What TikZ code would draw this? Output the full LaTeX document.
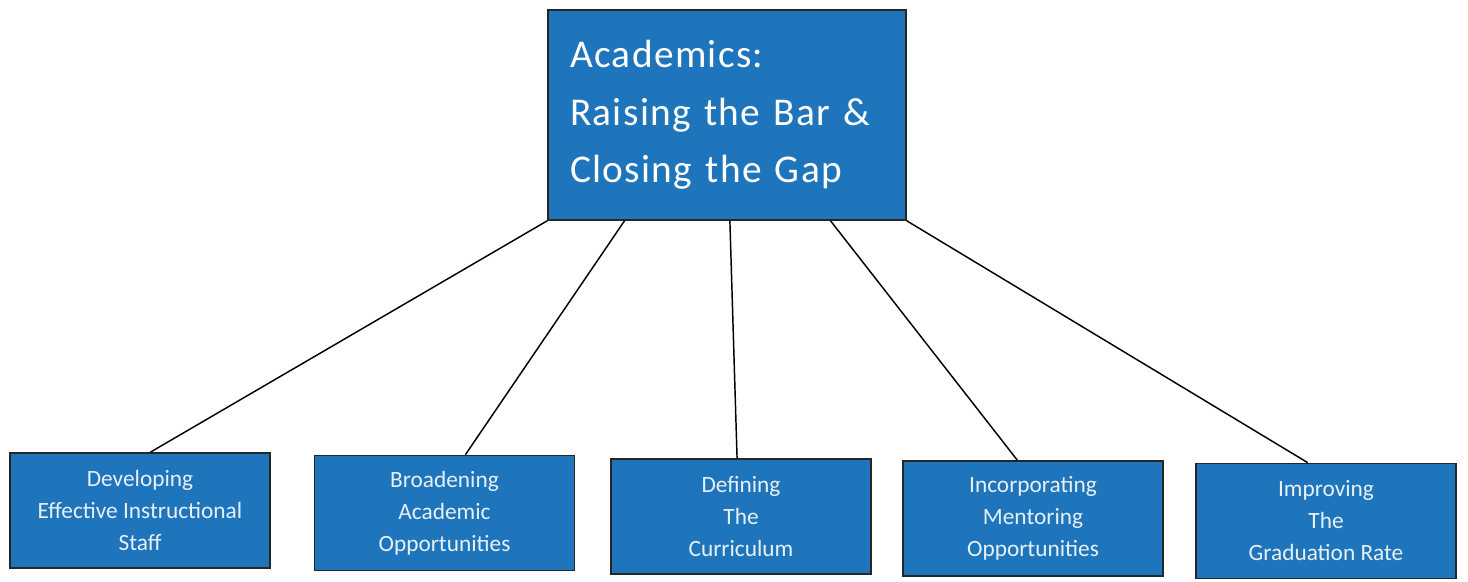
\documentclass[tikz,border=0pt]{standalone}
\usepackage{fontspec}
\setmainfont{Carlito}
\newfontfamily\headfont[LetterSpace=3.5,WordSpace=0.6]{Carlito}
\usetikzlibrary{calc}
\definecolor{boxblue}{RGB}{30,117,188}
\definecolor{boxtext}{RGB}{232,240,247}
\begin{document}
\begin{tikzpicture}[x=0.75pt,y=-0.75pt,
  topbox/.style={draw=black!85,line width=1.3pt,fill=boxblue,text=white,
    minimum width=268.5pt,minimum height=157.5pt,inner xsep=16.5pt,
    text width=235.5pt,align=left,
    font=\headfont\fontsize{29.5}{43}\selectfont},
  subbox/.style={draw=black!85,line width=1.3pt,fill=boxblue,text=boxtext,
    minimum width=195pt,minimum height=86.25pt,inner sep=0pt,align=center,
    font=\fontsize{17.5}{24}\selectfont},
  link/.style={draw=black,line width=1.1pt}]
\useasboundingbox (0,0) rectangle (1468,582);

% main goal
\node[topbox] (top) at (727,115) {Academics:\\Raising the Bar \&\\Closing the Gap};

% five focus areas
\node[subbox] (b1) at (140,510.5) {Developing\\Effective Instructional\\Staff};
\node[subbox] (b2) at (444.5,513) {Broadening\\Academic\\Opportunities};
\node[subbox] (b3) at (741,516.5) {Defining\\The\\Curriculum};
\node[subbox] (b4) at (1033,518.5) {Incorporating\\Mentoring\\Opportunities};
\node[subbox] (b5) at (1326,521) {Improving\\The\\Graduation Rate};

% connectors from the bottom edge of the main box
\draw[link] (top.south west) -- ($(b1.north west)!0.54!(b1.north east)$);
\draw[link] ($(top.south west)!0.215!(top.south east)$) -- ($(b2.north west)!0.58!(b2.north east)$);
\draw[link] ($(top.south west)!0.508!(top.south east)$) -- ($(b3.north west)!0.485!(b3.north east)$);
\draw[link] ($(top.south west)!0.788!(top.south east)$) -- ($(b4.north west)!0.44!(b4.north east)$);
\draw[link] (top.south east) -- ($(b5.north west)!0.43!(b5.north east)$);
\end{tikzpicture}
\end{document}
